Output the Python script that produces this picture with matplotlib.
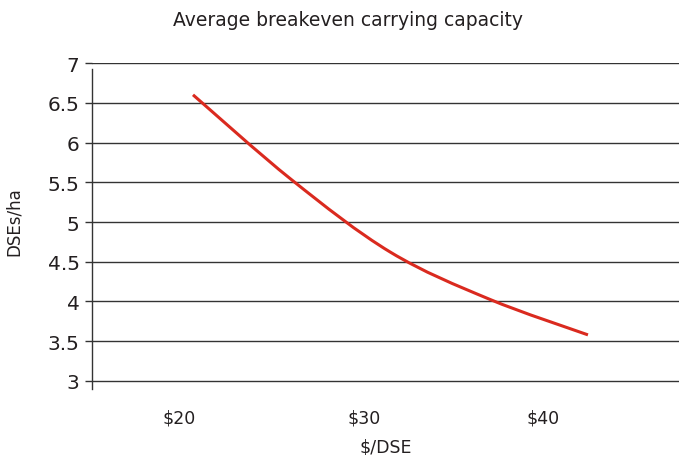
import numpy as np
import matplotlib.pyplot as plt
from matplotlib.path import Path
from matplotlib.patches import PathPatch

plt.rcParams['font.family'] = ['DejaVu Sans']

# breakeven carrying capacity by livestock price
price = [20, 25, 30, 35, 40]
dse_per_ha = [6.6, 5.53, 4.62, 4.03, 3.58]

tick_labels = ['$20', '$30', '$40']
tick_pos = [19.3, 28.66, 37.72]
y_ticks = [3, 3.5, 4, 4.5, 5, 5.5, 6, 6.5, 7]
y_tick_labels = ['3', '3.5', '4', '4.5', '5', '5.5', '6', '6.5', '7']

text_col = '#231f20'
grid_col = '#333333'
line_col = '#da2a1f'


def smooth_path(xs, ys):
    # catmull-rom style bezier through every point
    pts = np.column_stack([xs, ys]).astype(float)
    n = len(pts)
    verts = [pts[0]]
    codes = [Path.MOVETO]
    for i in range(n - 1):
        p_prev = pts[i - 1] if i > 0 else pts[i]
        p_next = pts[i + 2] if i + 2 < n else pts[i + 1]
        c1 = pts[i] + (pts[i + 1] - p_prev) / 6
        c2 = pts[i + 1] - (p_next - pts[i]) / 6
        verts += [c1, c2, pts[i + 1]]
        codes += [Path.CURVE4] * 3
    return Path(verts, codes)


fig = plt.figure(figsize=(6.79, 4.56), dpi=100)
ax = fig.add_axes([0.1355, 0.1414, 0.8645, 0.7182])

ax.set_xlim(14.886, 44.61)
ax.set_ylim(2.88, 7.0)

for yv in y_ticks:
    ax.axhline(yv, color=grid_col, lw=1.0, zorder=1)

ax.add_patch(PathPatch(smooth_path(price, dse_per_ha), facecolor='none',
                       edgecolor=line_col, lw=2.2, capstyle='butt', zorder=3))

for s in ['top', 'right', 'bottom']:
    ax.spines[s].set_visible(False)
ax.spines['left'].set_bounds(2.9, 6.93)
ax.spines['left'].set_color(grid_col)
ax.spines['left'].set_linewidth(1.0)

ax.set_yticks(y_ticks)
ax.set_yticklabels(y_tick_labels)
ax.tick_params(axis='y', length=5, width=1.0, color=grid_col, pad=4,
               labelsize=14.5, labelcolor=text_col)

ax.set_xticks(tick_pos)
ax.set_xticklabels(tick_labels)
ax.tick_params(axis='x', length=0, pad=13, labelsize=12.5, labelcolor=text_col)

ax.set_xlabel('$/DSE', fontsize=12.5, color=text_col, labelpad=8)
ax.set_ylabel('DSEs/ha', fontsize=12, color=text_col)
ax.yaxis.set_label_coords(-0.118, 0.52)

fig.text(0.512, 0.955, 'Average breakeven carrying capacity', ha='center', va='center',
         fontsize=13.5, color=text_col)

fig.savefig('out.png', dpi=100, facecolor='white')
